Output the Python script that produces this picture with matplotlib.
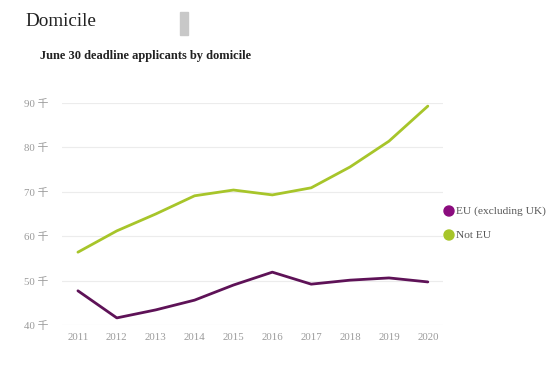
import matplotlib
matplotlib.use("Agg")
import matplotlib.pyplot as plt
import matplotlib.patches as mpatches

years = [2011, 2012, 2013, 2014, 2015, 2016, 2017, 2018, 2019, 2020]
eu = [47.7, 41.6, 43.4, 45.6, 49.0, 51.9, 49.2, 50.1, 50.6, 49.7]
not_eu = [56.4, 61.2, 65.0, 69.1, 70.4, 69.3, 70.9, 75.6, 81.4, 89.3]
yticks = [40, 50, 60, 70, 80, 90]
ytick_labels = ["40 千", "50 千", "60 千", "70 千", "80 千", "90 千"]
series_names = ["EU (excluding UK)", "Not EU"]

FAM = ["Liberation Serif", "Noto Sans CJK SC", "DejaVu Sans"]
plt.rcParams['font.family'] = FAM

purple = "#5e1257"
purple_m = "#8b0c7e"
green = "#a7c52a"

fig = plt.figure(figsize=(5.51, 3.65), dpi=100)
ax = fig.add_axes([62/551, 1-325/365, (443-62)/551, (325-103)/365])

ax.plot(years, eu, color=purple, lw=2.0, solid_capstyle='round', zorder=3)
ax.plot(years, not_eu, color=green, lw=2.0, solid_capstyle='round', zorder=3)

ax.set_xlim(2010.59, 2020.39)
ax.set_ylim(40, 90)
ax.set_yticks(yticks)
ax.set_yticklabels(ytick_labels)
ax.set_xticks(years)
ax.set_xticklabels([str(y) for y in years])
ax.grid(axis='y', color="#ececec", lw=0.8)
ax.set_axisbelow(True)
for s in ax.spines.values():
    s.set_visible(False)
ax.tick_params(axis='both', length=0, colors="#9a9a9a", labelsize=7.8)
ax.tick_params(axis='y', pad=10)
ax.tick_params(axis='x', pad=6)
for lab in ax.get_yticklabels():
    lab.set_fontfamily(FAM)

fig.text(25/551, 1-22/365, "Domicile", fontsize=13.8, color="#222222", va='center', ha='left')
fig.patches.append(mpatches.Rectangle((180/551, 1-35/365), 8/551, 23/365,
                                      transform=fig.transFigure, color="#c8c8c8", figure=fig))
fig.text(40/551, 1-56/365, "June 30 deadline applicants by domicile", fontsize=9.0,
         fontweight='bold', color="#222222", va='center', ha='left')

# legend
for yy, col, name in [(211, purple_m, series_names[0]), (235, green, series_names[1])]:
    fig.patches.append(mpatches.Ellipse((449/551, 1-yy/365), 10/551, 10/365,
                                        transform=fig.transFigure, color=col, figure=fig))
    fig.text(456/551, 1-yy/365, name, fontsize=8.2, color="#555555", va='center', ha='left')

fig.savefig("out.png", dpi=100, facecolor="white")
